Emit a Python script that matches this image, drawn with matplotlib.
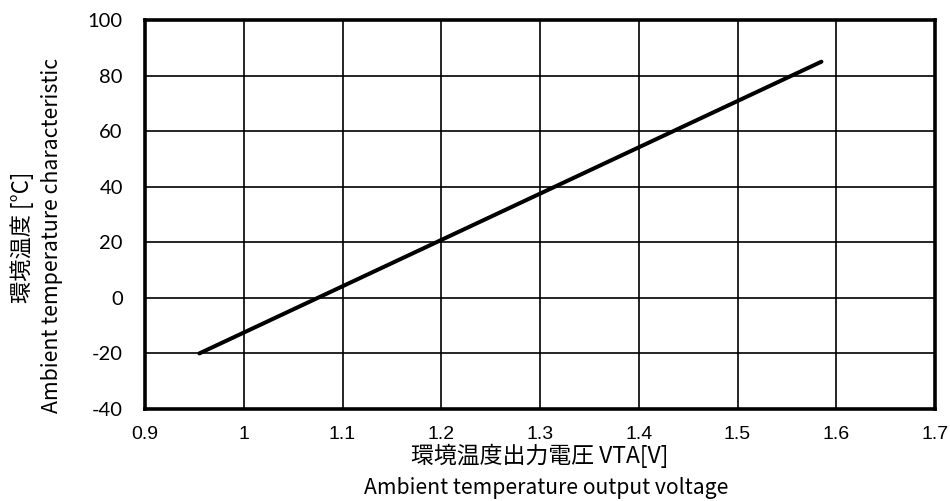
import numpy as np
import matplotlib
matplotlib.use('Agg')
import matplotlib.pyplot as plt

# data
vta = [0.955, 1.585]
temp = [-20, 85]
xticks = [0.9, 1.0, 1.1, 1.2, 1.3, 1.4, 1.5, 1.6, 1.7]
xticklabels = ['0.9', '1', '1.1', '1.2', '1.3', '1.4', '1.5', '1.6', '1.7']
yticks = [-40, -20, 0, 20, 40, 60, 80, 100]

jp = ['Noto Sans CJK JP', 'DejaVu Sans']

fig = plt.figure(figsize=(9.5, 5.01), dpi=100)
ax = fig.add_axes([145/950, 1 - 409/501, 790/950, 389/501])

ax.plot(vta, temp, color='black', lw=2.9, solid_capstyle='round')

ax.set_xlim(0.9, 1.7)
ax.set_ylim(-40, 100)
ax.set_xticks(xticks)
ax.set_xticklabels(xticklabels, family=['Liberation Sans', 'DejaVu Sans'], fontsize=14)
ax.set_yticks(yticks)
ax.set_yticklabels([str(v) for v in yticks], family=['Lato', 'DejaVu Sans'], fontsize=14.5)
ax.tick_params(axis='y', length=0, pad=16)
ax.tick_params(axis='x', length=0, pad=12)
ax.grid(True, color='black', lw=1.2)
for s in ax.spines.values():
    s.set_linewidth(2.6)
    s.set_color('black')

# two-line axis titles (Japanese + English)
fig.text(22/950, 1 - 237/501, '環境温度 [°C]', rotation=90, ha='center', va='center',
         family=jp, fontsize=16)
fig.text(52/950, 1 - 235/501, 'Ambient temperature characteristic', rotation=90,
         ha='center', va='center', family=jp, fontsize=15.3)
fig.text(540/950, 1 - 456/501, '環境温度出力電圧 VTA[V]', ha='center', va='center',
         family=jp, fontsize=16.5)
fig.text(546/950, 1 - 488/501, 'Ambient temperature output voltage', ha='center',
         va='center', family=jp, fontsize=15.2)

fig.savefig('out.png', dpi=100)
